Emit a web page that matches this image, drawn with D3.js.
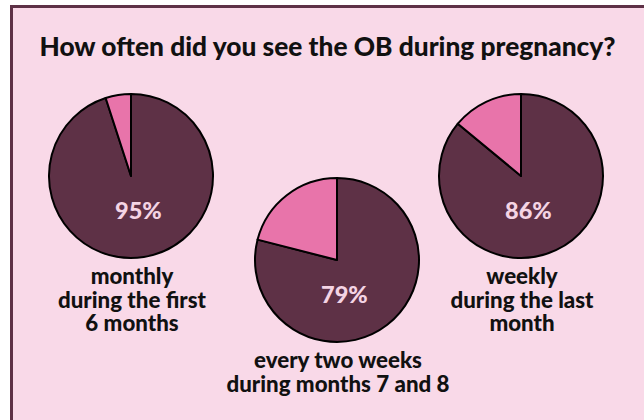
<!DOCTYPE html>
<html>
<head>
<meta charset="utf-8">
<script src="https://cdn.jsdelivr.net/npm/d3@7"></script>
<style>
  html, body { margin: 0; padding: 0; background: #ffffff; }
  svg { display: block; font-family: Lato, "Open Sans", sans-serif; font-weight: 900; }
</style>
</head>
<body>
<div id="chart"></div>
<script>
// share of respondents per question (rest = did not)
const title = 'How often did you see the OB during pregnancy?';
const questions = ['monthly', 'every two weeks', 'weekly'];
const captions = [
    ['monthly', 'during the first', '6 months'],
    ['every two weeks', 'during months 7 and 8'],
    ['weekly', 'during the last', 'month']
];
const yesShare = [95, 79, 86];

const width = 644;
const height = 420;

const svg = d3.select('#chart').append('svg')
    .attr('width', width)
    .attr('height', height);

// panel background with border
svg.append('rect')
    .attr('x', 11.5)
    .attr('y', 6.5)
    .attr('width', 640)
    .attr('height', 430)
    .attr('fill', '#f9d9e8')
    .attr('stroke', '#5e3146')
    .attr('stroke-width', 3);

svg.append('text')
    .attr('x', 327.5)
    .attr('y', 56)
    .attr('text-anchor', 'middle')
    .attr('font-size', 26.3)
    .attr('fill', '#111111')
    .text(title);

const centers = [
    { x: 131, y: 176 },
    { x: 337, y: 260 },
    { x: 521, y: 176 }
];
const radius = 82;

const pie = d3.pie().sort(null).value(d => d);
const arc = d3.arc().innerRadius(0).outerRadius(radius);
const colors = ['#5e3146', '#e874aa'];

questions.forEach((q, i) => {
    const g = svg.append('g')
        .attr('class', 'pie')
        .attr('transform', `translate(${centers[i].x},${centers[i].y})`);

    g.selectAll('path')
        .data(pie([yesShare[i], 100 - yesShare[i]]))
        .enter().append('path')
        .attr('d', arc)
        .attr('fill', (d, j) => colors[j])
        .attr('stroke', '#000000')
        .attr('stroke-width', 2)
        .attr('stroke-linejoin', 'round');

    g.append('text')
        .attr('x', radius * 0.09)
        .attr('y', radius * 0.43)
        .attr('dy', '0.35em')
        .attr('text-anchor', 'middle')
        .attr('font-size', 23.5)
        .attr('fill', '#f4d4e4')
        .text(yesShare[i] + '%');

    g.append('text')
        .attr('text-anchor', 'middle')
        .attr('font-size', 22.3)
        .attr('fill', '#111111')
        .selectAll('tspan')
        .data(captions[i])
        .enter().append('tspan')
        .attr('x', 1)
        .attr('y', (d, j) => radius + 26 + j * 23.5)
        .text(d => d);
});
</script>
</body>
</html>
